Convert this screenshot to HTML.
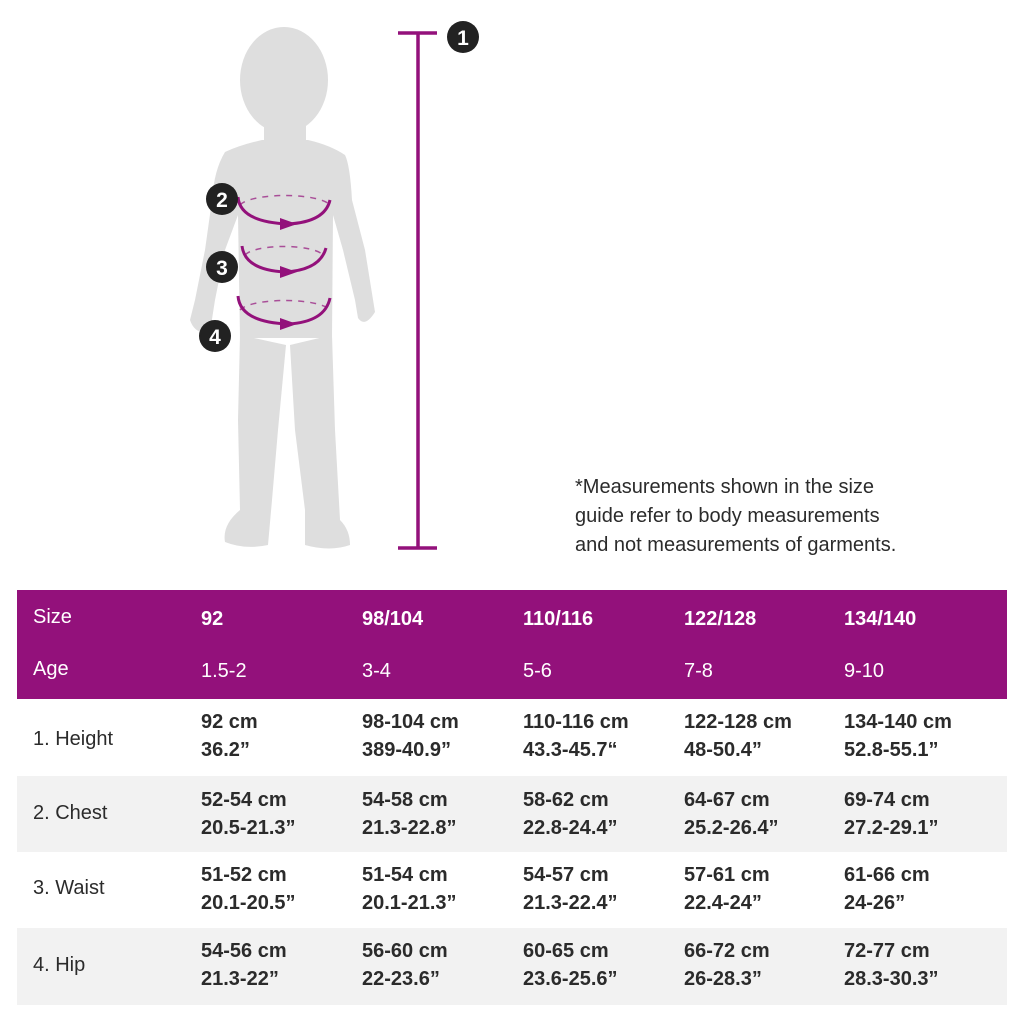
<!DOCTYPE html>
<html><head><meta charset="utf-8"><style>
body{margin:0;width:1024px;height:1024px;background:#fff;position:relative;overflow:hidden;font-family:"Liberation Sans",sans-serif;color:#2b2b2b}
.t{position:absolute;font-size:20px;line-height:28px;white-space:nowrap}
.h{color:#fff}
.b{font-weight:bold}
</style></head><body>
<svg width="1024" height="580" style="position:absolute;left:0;top:0">
<g fill="#dedede">
<ellipse cx="284" cy="80" rx="44" ry="53"/>
<rect x="264" y="115" width="42" height="35"/>
<path d="M262 140 Q240 145 225 152 Q214 170 212 200 L205 250 L195 300 L190 320 Q195 335 210 332 L215 300 L225 250 L238 215 L240 338 L332 338 L333 215 L343 250 L355 300 L358 318 Q365 328 375 312 L365 250 L352 200 Q350 165 345 155 Q330 145 308 140Z"/>
<path d="M240 335 L238 420 L240 510 Q222 525 225 542 Q245 550 268 545 L272 500 L278 430 L286 345Z"/>
<path d="M290 345 L295 430 L305 510 L305 545 Q330 552 350 545 Q350 530 340 520 L335 430 L332 335Z"/>
</g>
<g stroke="#93117b" fill="none">
<path d="M240 205 A46 12 0 0 1 330 205" stroke-dasharray="6 6" stroke-width="1.5" opacity=".7"/>
<path d="M238 197 Q240 222 288 224 Q325 222 330 200" stroke-width="3"/>
<path d="M245 255 A40 11 0 0 1 323 255" stroke-dasharray="6 6" stroke-width="1.5" opacity=".7"/>
<path d="M242 246 Q245 270 285 272 Q320 270 326 248" stroke-width="3"/>
<path d="M240 310 A46 12 0 0 1 330 310" stroke-dasharray="6 6" stroke-width="1.5" opacity=".7"/>
<path d="M238 296 Q240 322 288 324 Q325 322 330 298" stroke-width="3"/>
<path d="M418 33 V548 M398 33 H437 M398 548 H437" stroke-width="3.5"/>
</g>
<g fill="#93117b"><path d="M280 218 L297 224 L280 230Z"/><path d="M280 266 L297 272 L280 278Z"/><path d="M280 318 L297 324 L280 330Z"/></g>
<g fill="#222"><circle cx="463" cy="37" r="16"/><circle cx="222" cy="199" r="16"/><circle cx="222" cy="267" r="16"/><circle cx="215" cy="336" r="16"/></g>
<g fill="#fff" font-family="Liberation Sans" font-weight="bold" font-size="21" text-anchor="middle">
<text x="463" y="45">1</text><text x="222" y="207">2</text><text x="222" y="275">3</text><text x="215" y="344">4</text></g>
</svg>
<div class="t" style="left:575px;top:473px;line-height:29px">*Measurements shown in the size<br>guide refer to body measurements<br>and not measurements of garments.</div>
<div style="position:absolute;left:17px;top:590px;width:990px;height:109px;background:#93117b"></div>
<div style="position:absolute;left:17px;top:776px;width:990px;height:76px;background:#f2f2f2"></div>
<div style="position:absolute;left:17px;top:928px;width:990px;height:77px;background:#f2f2f2"></div>
<div class="t h" style="left:33px;top:603px">Size</div>
<div class="t h" style="left:33px;top:655px">Age</div>
<div class="t h b" style="left:201px;top:605px">92</div><div class="t h" style="left:201px;top:657px">1.5-2</div>
<div class="t h b" style="left:362px;top:605px">98/104</div><div class="t h" style="left:362px;top:657px">3-4</div>
<div class="t h b" style="left:523px;top:605px">110/116</div><div class="t h" style="left:523px;top:657px">5-6</div>
<div class="t h b" style="left:684px;top:605px">122/128</div><div class="t h" style="left:684px;top:657px">7-8</div>
<div class="t h b" style="left:844px;top:605px">134/140</div><div class="t h" style="left:844px;top:657px">9-10</div>

<div class="t" style="left:33px;top:725px">1. Height</div>
<div class="t b" style="left:201px;top:708px">92 cm<br>36.2”</div>
<div class="t b" style="left:362px;top:708px">98-104 cm<br>389-40.9”</div>
<div class="t b" style="left:523px;top:708px">110-116 cm<br>43.3-45.7“</div>
<div class="t b" style="left:684px;top:708px">122-128 cm<br>48-50.4”</div>
<div class="t b" style="left:844px;top:708px">134-140 cm<br>52.8-55.1”</div>

<div class="t" style="left:33px;top:799px">2. Chest</div>
<div class="t b" style="left:201px;top:786px">52-54 cm<br>20.5-21.3”</div>
<div class="t b" style="left:362px;top:786px">54-58 cm<br>21.3-22.8”</div>
<div class="t b" style="left:523px;top:786px">58-62 cm<br>22.8-24.4”</div>
<div class="t b" style="left:684px;top:786px">64-67 cm<br>25.2-26.4”</div>
<div class="t b" style="left:844px;top:786px">69-74 cm<br>27.2-29.1”</div>

<div class="t" style="left:33px;top:874px">3. Waist</div>
<div class="t b" style="left:201px;top:861px">51-52 cm<br>20.1-20.5”</div>
<div class="t b" style="left:362px;top:861px">51-54 cm<br>20.1-21.3”</div>
<div class="t b" style="left:523px;top:861px">54-57 cm<br>21.3-22.4”</div>
<div class="t b" style="left:684px;top:861px">57-61 cm<br>22.4-24”</div>
<div class="t b" style="left:844px;top:861px">61-66 cm<br>24-26”</div>

<div class="t" style="left:33px;top:951px">4. Hip</div>
<div class="t b" style="left:201px;top:937px">54-56 cm<br>21.3-22”</div>
<div class="t b" style="left:362px;top:937px">56-60 cm<br>22-23.6”</div>
<div class="t b" style="left:523px;top:937px">60-65 cm<br>23.6-25.6”</div>
<div class="t b" style="left:684px;top:937px">66-72 cm<br>26-28.3”</div>
<div class="t b" style="left:844px;top:937px">72-77 cm<br>28.3-30.3”</div>
</body></html>
